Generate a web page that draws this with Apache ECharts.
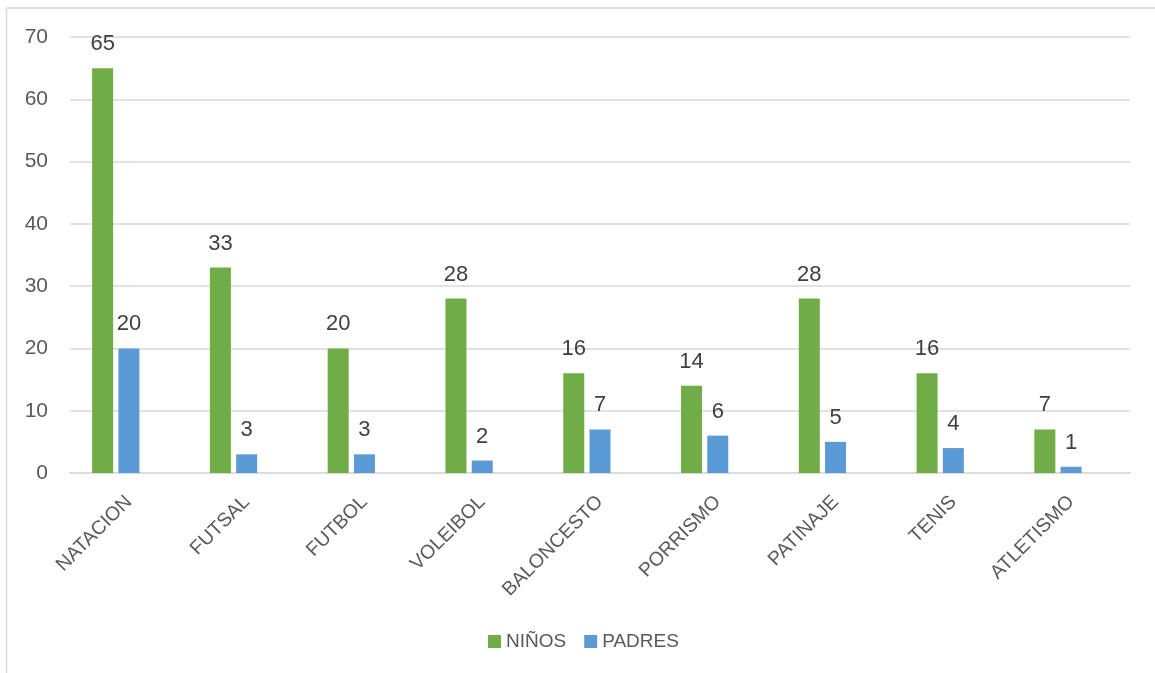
<!DOCTYPE html>
<html>
<head>
<meta charset="utf-8">
<script src="https://cdn.jsdelivr.net/npm/echarts@6/dist/echarts.min.js"></script>
<style>
html,body{margin:0;padding:0;background:#fff;}
#chart{width:1155px;height:673px;}
</style>
</head>
<body>
<div id="chart"></div>
<script>
var categories = ['NATACION','FUTSAL','FUTBOL','VOLEIBOL','BALONCESTO','PORRISMO','PATINAJE','TENIS','ATLETISMO'];
var ninos = [65, 33, 20, 28, 16, 14, 28, 16, 7];
var padres = [20, 3, 3, 2, 7, 6, 5, 4, 1];
var emptySeries = [null, null, null, null, null, null, null, null, null];
var yTicks = [0, 10, 20, 30, 40, 50, 60, 70];

var font = '"Liberation Sans", Arial, sans-serif';
var chart = echarts.init(document.getElementById('chart'));
var labelStyle = {show: true, position: 'top', distance: 13, fontSize: 22, color: '#404040', fontFamily: font};
chart.setOption({
  animation: false,
  textStyle: {fontFamily: font},
  graphic: [{
    type: 'rect', shape: {x: 6.5, y: 8, width: 1300, height: 800},
    style: {fill: 'none', stroke: '#d9d9d9', lineWidth: 1.5}, silent: true
  }],
  grid: {left: 70, right: 25, top: 37, bottom: 200, containLabel: false},
  legend: {
    top: 627, left: 483, itemWidth: 13, itemHeight: 13, itemGap: 18, padding: 5,
    icon: 'rect', data: ['NIÑOS', 'PADRES'],
    textStyle: {fontSize: 19, color: '#595959', fontFamily: font}
  },
  xAxis: {
    type: 'category', data: categories,
    axisLine: {lineStyle: {color: '#d9d9d9', width: 1.5}},
    axisTick: {show: false},
    axisLabel: {rotate: 45, margin: 26, fontSize: 19.5, color: '#595959', fontFamily: font, interval: 0}
  },
  yAxis: {
    type: 'value', min: 0, max: 70, interval: 10,
    axisLine: {show: false}, axisTick: {show: false},
    splitLine: {lineStyle: {color: '#d9d9d9', width: 1.5}},
    axisLabel: {margin: 22, fontSize: 21, color: '#595959', fontFamily: font,
      formatter: function (v) { return yTicks.indexOf(v) >= 0 ? String(v) : ''; }}
  },
  series: [
    {name: 'NIÑOS', type: 'bar', data: ninos, barWidth: 21, barGap: '25%',
      itemStyle: {color: '#70AD47'}, label: labelStyle},
    {name: 'PADRES', type: 'bar', data: padres, barWidth: 21, barGap: '25%',
      itemStyle: {color: '#5B9BD5'}, label: labelStyle},
    {name: '_', type: 'bar', data: emptySeries, barWidth: 21, barGap: '25%',
      itemStyle: {color: 'transparent'}}
  ]
});
</script>
</body>
</html>
